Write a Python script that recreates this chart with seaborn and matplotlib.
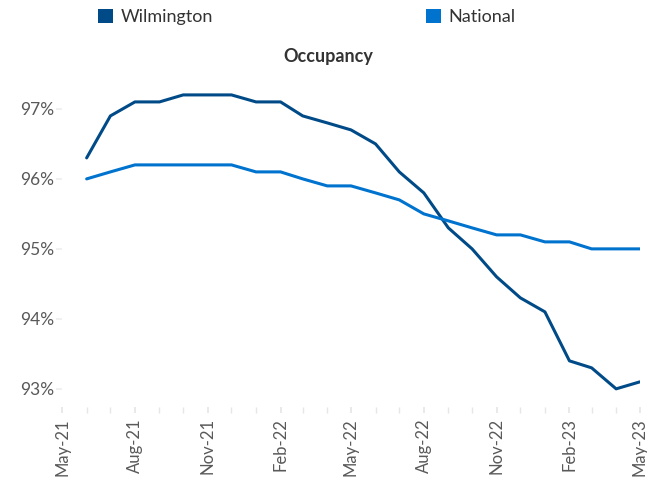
import pandas as pd
import matplotlib
matplotlib.use('Agg')
import matplotlib.pyplot as plt
import matplotlib.dates as mdates
from matplotlib.ticker import FuncFormatter
from matplotlib.patches import Patch
import seaborn as sns

# Monthly occupancy, Jun-21 .. May-23 (percent)
months = pd.date_range('2021-06-01', '2023-05-01', freq='MS')
wilmington = [96.3, 96.9, 97.1, 97.1, 97.2, 97.2, 97.2, 97.1, 97.1, 96.9, 96.8, 96.7,
              96.5, 96.1, 95.8, 95.3, 95.0, 94.6, 94.3, 94.1, 93.4, 93.3, 93.0, 93.1]
national = [96.0, 96.1, 96.2, 96.2, 96.2, 96.2, 96.2, 96.1, 96.1, 96.0, 95.9, 95.9,
            95.8, 95.7, 95.5, 95.4, 95.3, 95.2, 95.2, 95.1, 95.1, 95.0, 95.0, 95.0]
series_names = ['Wilmington', 'National']
colors = ['#004B87', '#0073CF']

df = pd.DataFrame({'month': list(months) * 2,
                   'value': wilmington + national,
                   'series': ['Wilmington'] * len(months) + ['National'] * len(months)})

sns.set_theme(style='white')
plt.rcParams['font.family'] = ['Lato', 'DejaVu Sans']

fig = plt.figure(figsize=(6.47, 4.8), dpi=100)
ax = fig.add_axes([0.096, 0.152, 0.893, 0.694])

sns.lineplot(data=df, x='month', y='value', hue='series', hue_order=series_names,
             palette=colors, linewidth=2.2, ax=ax, legend=False)

ax.set_xlim(pd.Timestamp('2021-05-01'), pd.Timestamp('2023-05-01'))
ax.set_ylim(92.74, 97.5)
ax.set_yticks([93, 94, 95, 96, 97])
ax.yaxis.set_major_formatter(FuncFormatter(lambda v, p: f'{v:.0f}%'))

ax.xaxis.set_major_locator(mdates.MonthLocator(bymonth=[2, 5, 8, 11]))
ax.xaxis.set_minor_locator(mdates.MonthLocator())
ax.xaxis.set_major_formatter(mdates.DateFormatter('%b-%y'))
plt.setp(ax.get_xticklabels(), rotation=90)

ax.tick_params(axis='x', which='both', bottom=True, length=4, color='#e6e6e6',
               labelsize=12, labelcolor='#595959', pad=4)
ax.tick_params(axis='y', left=True, length=4, color='#eeeeee',
               labelsize=12.5, labelcolor='#595959', pad=2)
for s in ax.spines.values():
    s.set_visible(False)
ax.set_xlabel('')
ax.set_ylabel('')

fig.text(0.507, 0.883, 'Occupancy', ha='center', va='center',
         fontsize=13, fontweight='bold', color='#333333')

# legend entries placed separately, like the original layout
legend_x = [98 / 647, 426 / 647]
for name, c, lx in zip(series_names, colors, legend_x):
    leg = fig.legend([Patch(facecolor=c, edgecolor='none')], [name], loc='center left',
                     bbox_to_anchor=(lx, 0.965), frameon=False, fontsize=13,
                     handlelength=0.85, handleheight=0.85, handletextpad=0.4,
                     borderpad=0, borderaxespad=0, labelcolor='#333333')

fig.savefig('out.png', dpi=100)
